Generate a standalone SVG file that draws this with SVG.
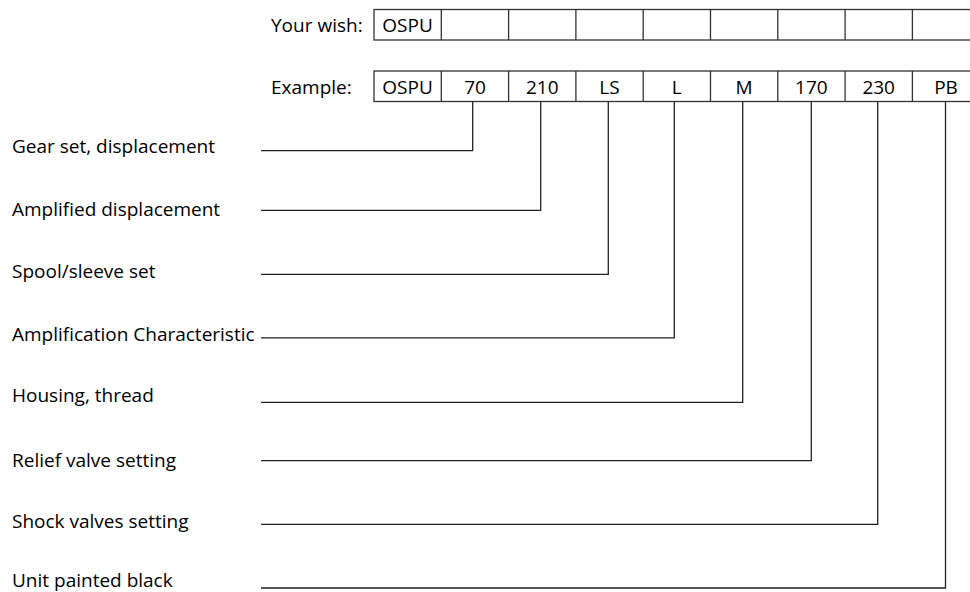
<svg xmlns="http://www.w3.org/2000/svg" width="970" height="592" viewBox="0 0 970 592">
<style>
text{font-family:"Open Sans","Liberation Sans",sans-serif;font-size:19px;fill:#000}
.c{text-anchor:middle}
.box{fill:none;stroke:#333;stroke-width:1.3}
.lead{fill:none;stroke:#222;stroke-width:1.3}
</style>
<rect width="970" height="592" fill="#fff"/>
<g id="row-wish">
<text x="271" y="32.3">Your wish:</text>
<rect class="box" x="374" y="9.5" width="605.7" height="30.5"/>
<path class="box" d="M441.3 9.5V40M508.6 9.5V40M575.9 9.5V40M643.2 9.5V40M710.5 9.5V40M777.8 9.5V40M845.1 9.5V40M912.4 9.5V40"/>
<text class="c" x="407.6" y="32.3">OSPU</text>
</g>
<g id="row-example">
<text x="271" y="93.5">Example:</text>
<rect class="box" x="374" y="71" width="605.7" height="30.5"/>
<path class="box" d="M441.3 71V101.5M508.6 71V101.5M575.9 71V101.5M643.2 71V101.5M710.5 71V101.5M777.8 71V101.5M845.1 71V101.5M912.4 71V101.5"/>
<text class="c" x="407.6" y="93.5">OSPU</text>
<text class="c" x="475" y="93.5">70</text>
<text class="c" x="542.3" y="93.5">210</text>
<text class="c" x="609.5" y="93.5">LS</text>
<text class="c" x="676.8" y="93.5">L</text>
<text class="c" x="744.1" y="93.5">M</text>
<text class="c" x="811.4" y="93.5">170</text>
<text class="c" x="878.7" y="93.5">230</text>
<text class="c" x="946" y="93.5">PB</text>
</g>
<g id="labels">
<text x="12" y="153.3">Gear set, displacement</text>
<text x="12" y="216">Amplified displacement</text>
<text x="12" y="278.3">Spool/sleeve set</text>
<text x="12" y="340.7">Amplification Characteristic</text>
<text x="12" y="402.3">Housing, thread</text>
<text x="12" y="466.7">Relief valve setting</text>
<text x="12" y="528.3">Shock valves setting</text>
<text x="12" y="586.6">Unit painted black</text>
</g>
<g id="connectors">
<path class="lead" d="M261 150.7H472.7V101.5"/>
<path class="lead" d="M261 210.3H540.7V101.5"/>
<path class="lead" d="M261 274.3H608.3V101.5"/>
<path class="lead" d="M261 337.8H674.3V101.5"/>
<path class="lead" d="M261 402.3H742.7V101.5"/>
<path class="lead" d="M261 460.7H811.3V101.5"/>
<path class="lead" d="M261 524.3H877.7V101.5"/>
<path class="lead" d="M261 588H945.5V101.5"/>
</g>
</svg>
